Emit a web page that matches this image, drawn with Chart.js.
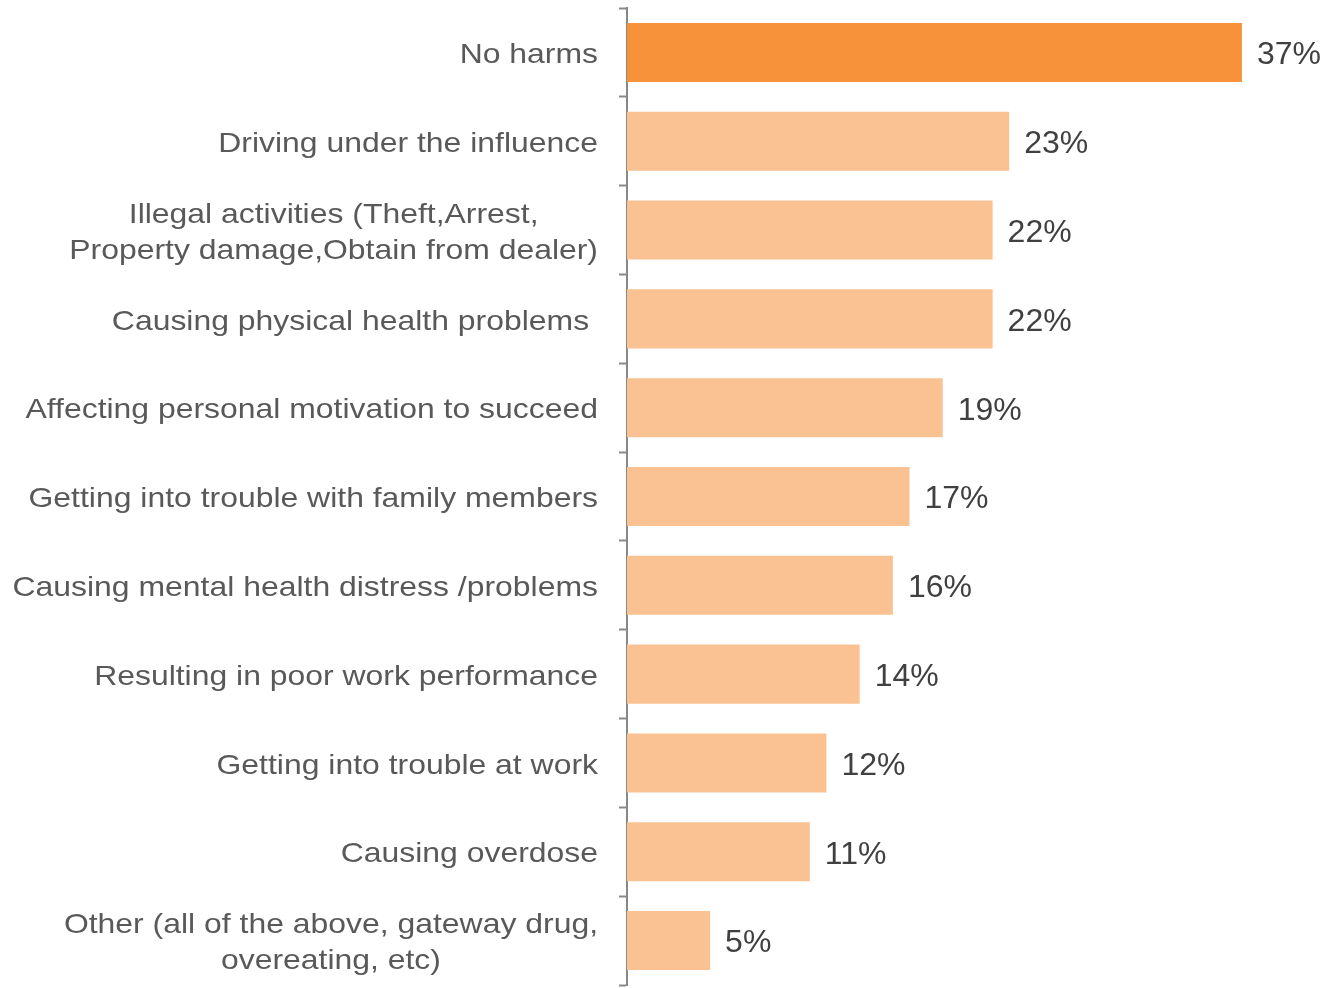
<!DOCTYPE html>
<html>
<head>
<meta charset="utf-8">
<script src="https://cdn.jsdelivr.net/npm/chart.js@4/dist/chart.umd.min.js"></script>
<style>
  html, body { margin: 0; padding: 0; background: #fff; }
  #wrap { width: 1326px; height: 988px; }
</style>
</head>
<body>
<div id="wrap"><canvas id="harmsChart" width="1326" height="988"></canvas></div>
<script>
const categories = [
    'No harms',
    'Driving under the influence',
    ['Illegal activities (Theft,Arrest,', 'Property damage,Obtain from dealer)'],
    'Causing physical health problems ',
    'Affecting personal motivation to succeed',
    'Getting into trouble with family members',
    'Causing mental health distress /problems',
    'Resulting in poor work performance',
    'Getting into trouble at work',
    'Causing overdose',
    ['Other (all of the above, gateway drug,', 'overeating, etc)']
];
const values = [37, 23, 22, 22, 19, 17, 16, 14, 12, 11, 5];
const highlightIndex = 0;

const darkOrange = '#F7923A';
const lightOrange = '#FAC292';
const labelFont = '28px "Liberation Sans", Arial, sans-serif';
const valueFont = '32px "Liberation Sans", Arial, sans-serif';

// draws category labels (centered multi-line like the original) and value labels
const labelPlugin = {
    id: 'harmLabels',
    afterDraw(chart) {
        const ctx = chart.ctx;
        const yScale = chart.scales.y;
        const xScale = chart.scales.x;
        const rightX = 598;
        const stretch = 1.14;
        const lineGap = 36;

        ctx.save();
        ctx.font = labelFont;
        ctx.fillStyle = '#595959';
        ctx.textBaseline = 'middle';
        categories.forEach((label, i) => {
            const y = yScale.getPixelForValue(i);
            const lines = Array.isArray(label) ? label : [label];
            const maxW = Math.max(...lines.map(l => ctx.measureText(l).width));
            ctx.save();
            ctx.translate(rightX, y);
            ctx.scale(stretch, 1);
            ctx.textAlign = 'center';
            lines.forEach((line, j) => {
                const dy = (j - (lines.length - 1) / 2) * lineGap;
                ctx.fillText(line, -maxW / 2, dy + 3);
            });
            ctx.restore();
        });

        ctx.font = valueFont;
        ctx.fillStyle = '#404040';
        ctx.textAlign = 'left';
        values.forEach((v, i) => {
            const x = xScale.getPixelForValue(v) + 15;
            const y = yScale.getPixelForValue(i);
            ctx.fillText(v + '%', x, y + 3);
        });
        ctx.restore();
    }
};

new Chart(document.getElementById('harmsChart').getContext('2d'), {
    type: 'bar',
    data: {
        labels: categories,
        datasets: [{
            data: values,
            backgroundColor: values.map((v, i) => i === highlightIndex ? darkOrange : lightOrange),
            borderWidth: 0,
            categoryPercentage: 1,
            barPercentage: 0.665
        }]
    },
    options: {
        indexAxis: 'y',
        responsive: false,
        animation: false,
        layout: {
            padding: { top: 8, bottom: 3, left: 0, right: 1 }
        },
        scales: {
            x: {
                display: false,
                min: 0,
                max: 42
            },
            y: {
                afterFit: (scale) => { scale.width = 627; },
                ticks: { display: false },
                grid: {
                    offset: true,
                    drawOnChartArea: false,
                    drawTicks: true,
                    tickLength: 8,
                    tickWidth: 2,
                    tickColor: '#888888'
                },
                border: { display: true, color: '#888888', width: 2 }
            }
        },
        plugins: {
            legend: { display: false },
            tooltip: { enabled: false }
        }
    },
    plugins: [labelPlugin]
});
</script>
</body>
</html>
